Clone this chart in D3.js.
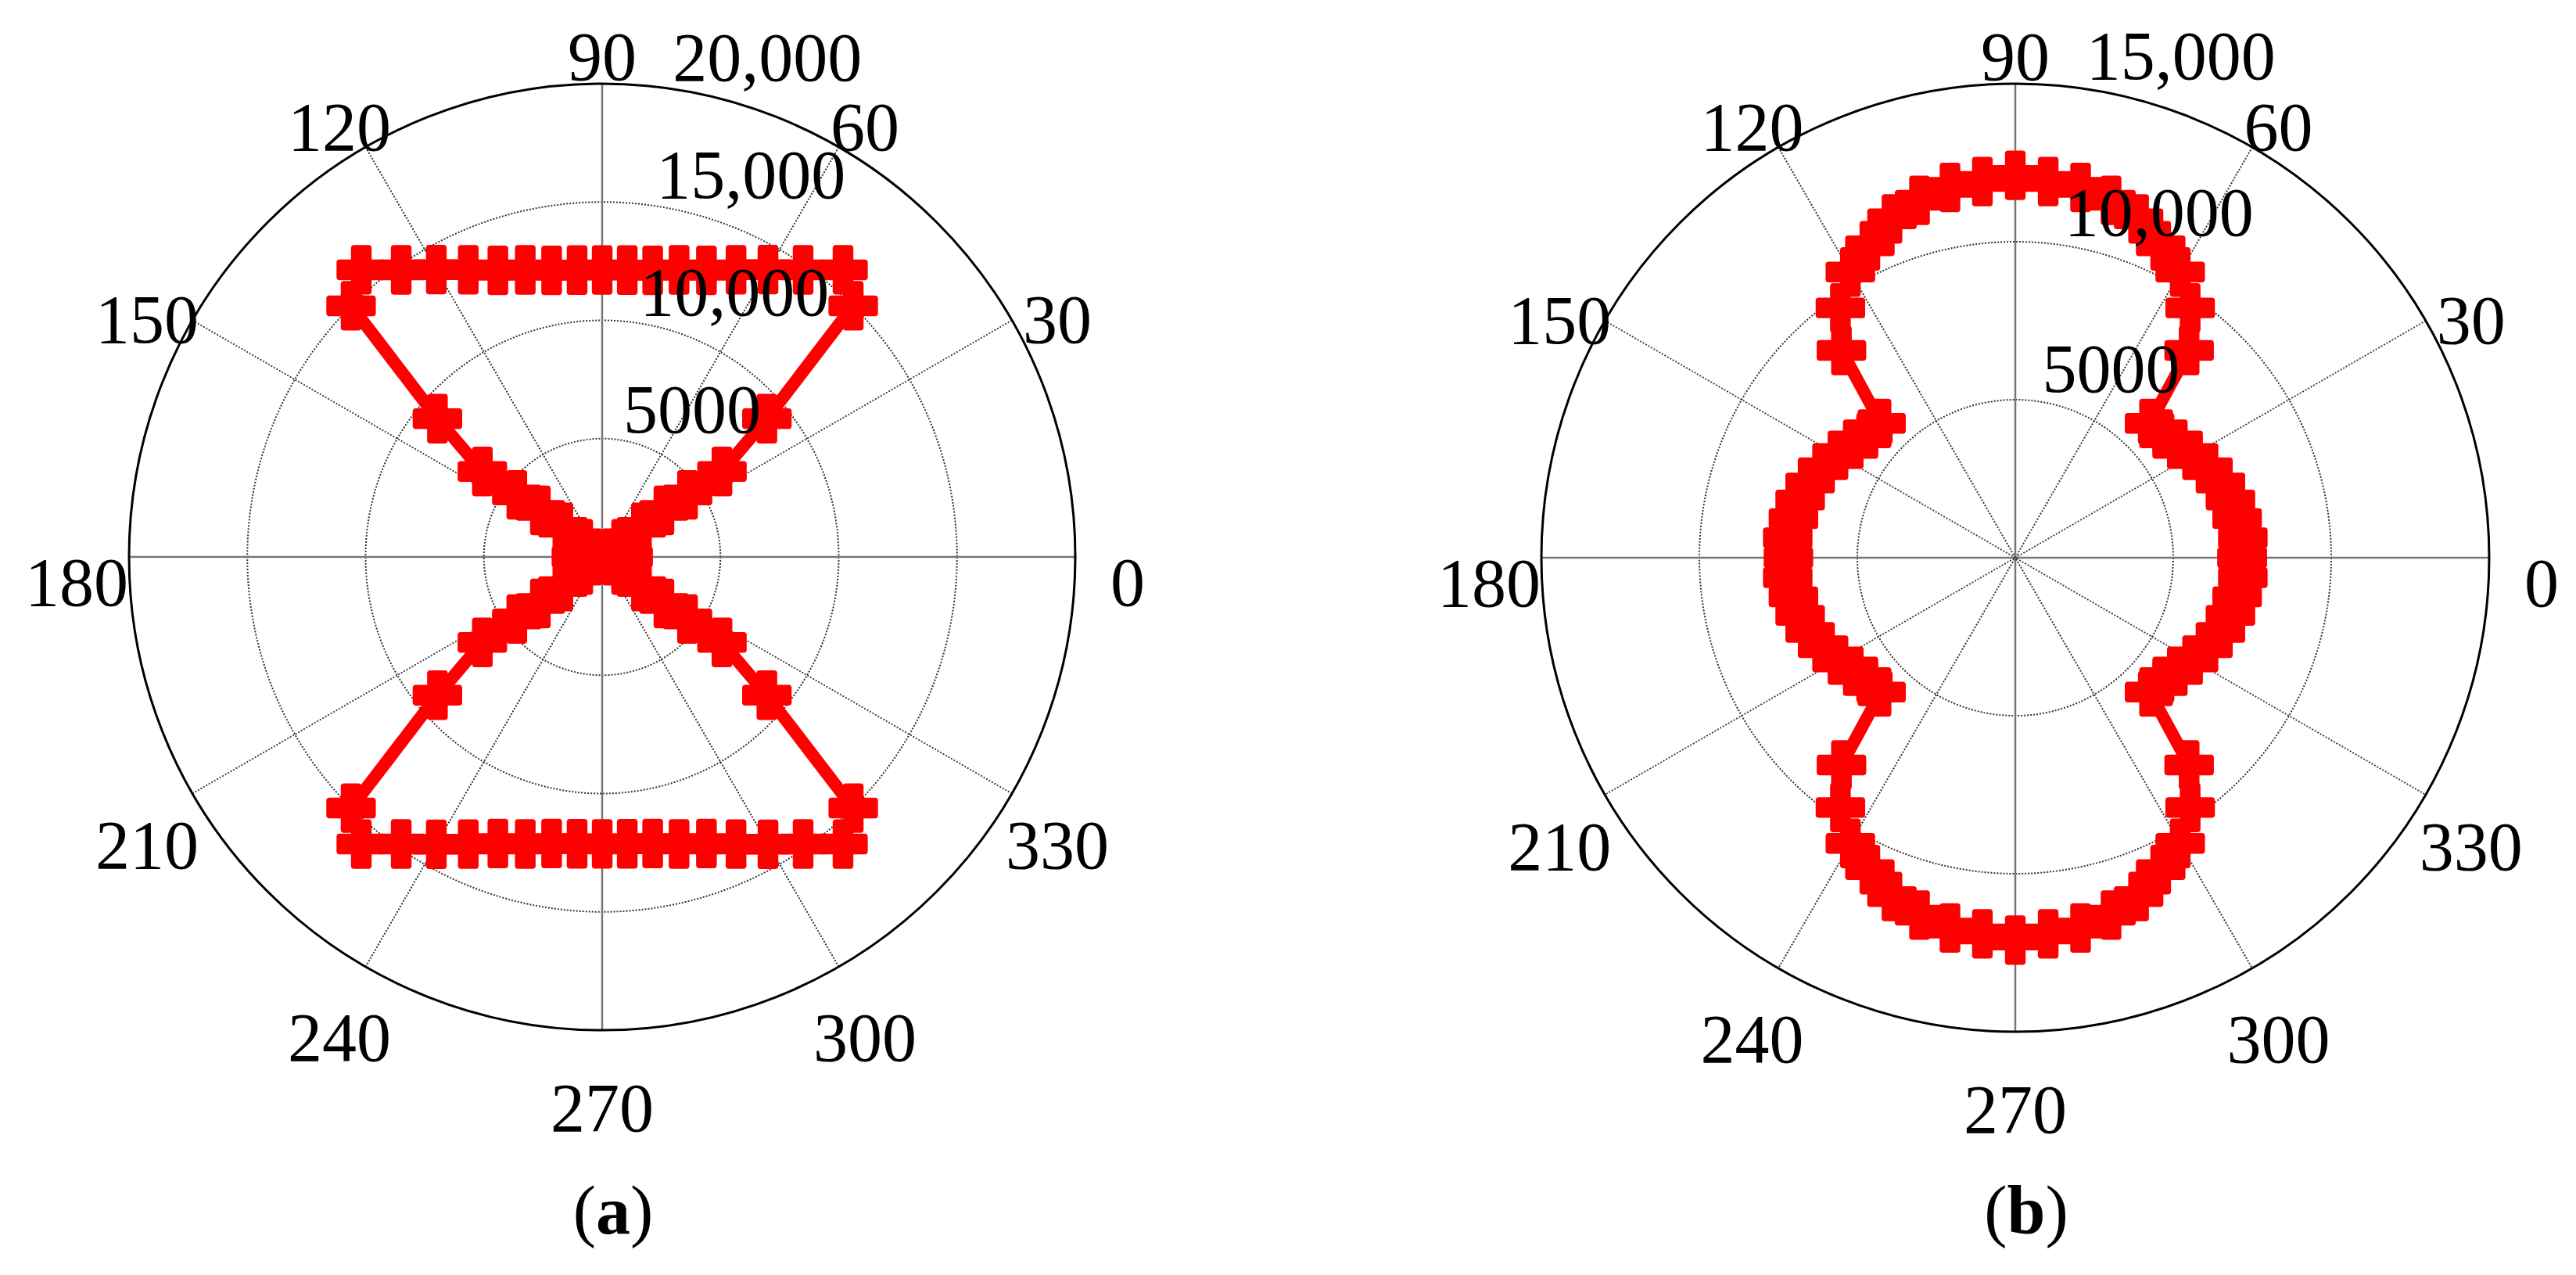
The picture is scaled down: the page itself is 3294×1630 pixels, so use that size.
<!DOCTYPE html>
<html>
<head>
<meta charset="utf-8">
<script src="https://cdn.jsdelivr.net/npm/d3@7"></script>
<style>
  html, body { margin: 0; padding: 0; background: #fff; }
  svg { display: block; }
  text { font-family: "Liberation Serif", "Times New Roman", serif; fill: #000; }
</style>
</head>
<body>
<div id="chart"></div>
<script>
// panel (a): marker angles (degrees); the arms of the X
// run almost radially, so the angles bunch up there
const anglesA = [
  0, 8, 20, 34, 37, 37, 36, 35.5, 40, 45, 50, 55, 60, 65, 70, 75, 80, 85, 90,
  95, 100, 105, 110, 115, 120, 125, 130, 135, 140, 144.5, 144, 143, 143, 146, 160, 172, 180,
  188, 200, 214, 217, 217, 216, 215.5, 220, 225, 230, 235, 240, 245, 250, 255, 260, 265, 270,
  275, 280, 285, 290, 295, 300, 305, 310, 315, 320, 324.5, 324, 323, 323, 326, 340, 352, 360,
];
const valuesA = [
  1090, 730, 460, 990, 2080, 3270, 4460, 6220, 9090, 15010, 15840, 14810, 14020, 13390, 12890, 12560, 12300, 12170, 12130,
  12170, 12300, 12560, 12890, 13390, 14020, 14810, 15840, 15010, 9090, 6220, 4460, 3270, 2080, 990, 460, 730, 1090,
  730, 460, 990, 2080, 3270, 4460, 6220, 9090, 15010, 15840, 14810, 14020, 13390, 12890, 12560, 12300, 12170, 12130,
  12170, 12300, 12560, 12890, 13390, 14020, 14810, 15840, 15010, 9090, 6220, 4460, 3270, 2080, 990, 460, 730, 1090,
];

// panel (b): one point every 5 degrees
const anglesB = [
  0, 5, 10, 15, 20, 25, 30, 35, 40, 45, 50, 55, 60, 65, 70, 75, 80, 85, 90,
  95, 100, 105, 110, 115, 120, 125, 130, 135, 140, 145, 150, 155, 160, 165, 170, 175, 180,
  185, 190, 195, 200, 205, 210, 215, 220, 225, 230, 235, 240, 245, 250, 255, 260, 265, 270,
  275, 280, 285, 290, 295, 300, 305, 310, 315, 320, 325, 330, 335, 340, 345, 350, 355, 360,
];
const valuesB = [
  7180, 7230, 7130, 7050, 6910, 6730, 6480, 6260, 6090, 6010, 8560, 9650, 10440, 10890, 11410, 11710, 11900, 11950, 12100,
  11950, 11900, 11710, 11410, 10890, 10440, 9650, 8560, 6010, 6090, 6260, 6480, 6730, 6910, 7050, 7130, 7230, 7180,
  7230, 7130, 7050, 6910, 6730, 6480, 6260, 6090, 6010, 8560, 9650, 10440, 10890, 11410, 11710, 11900, 11950, 12100,
  11950, 11900, 11710, 11410, 10890, 10440, 9650, 8560, 6010, 6090, 6260, 6480, 6730, 6910, 7050, 7130, 7230, 7180,
];

const angleTicks = [0, 30, 60, 90, 120, 150, 180, 210, 240, 270, 300, 330];
const ringTicksA = [5000, 10000, 15000, 20000];
const ringLabelsA = ["5000", "10,000", "15,000", "20,000"];
const ringTicksB = [5000, 10000, 15000];
const ringLabelsB = ["5000", "10,000", "15,000"];
const captions = ["a", "b"];

const width = 3294;
const height = 1630;

class PolarPanel {
  constructor({ svg, cx, cy, radius, rings, ringLabels, angles, values, caption }) {
    this.svg = svg;
    this.cx = cx;
    this.cy = cy;
    this.radius = radius;
    this.rings = rings;
    this.ringLabels = ringLabels;
    this.angles = angles;
    this.values = values;
    this.caption = caption;
    this.setup();
    this.scaffold();
    this.render();
  }

  setup() {
    this.maxValue = d3.max(this.rings);
    this.ringStep = this.rings[1] - this.rings[0];
    this.r = d3.scaleLinear().domain([0, this.maxValue]).range([0, this.radius]);
    this.rad = (deg) => (deg * Math.PI) / 180;
    this.data = this.angles.map((a, i) => ({ angle: a, value: this.values[i] }));
    // lineRadial measures clockwise from 12 o'clock
    this.line = d3
      .lineRadial()
      .angle((d) => this.rad(90 - d.angle))
      .radius((d) => this.r(d.value));
    this.pos = (deg, rr) => [rr * Math.cos(this.rad(deg)), -rr * Math.sin(this.rad(deg))];
  }

  scaffold() {
    this.g = this.svg.append("g").attr("transform", `translate(${this.cx},${this.cy})`);
    this.gGrid = this.g.append("g").attr("class", "grid");
    this.gData = this.g.append("g").attr("class", "data");
    this.gText = this.g.append("g").attr("class", "labels");
  }

  render() {
    this.renderGrid();
    this.renderData();
    this.renderLabels();
  }

  renderGrid() {
    const R = this.radius;

    this.gGrid
      .selectAll(".ring")
      .data(this.rings.slice(0, -1))
      .join("circle")
      .attr("class", "ring")
      .attr("r", (d) => this.r(d))
      .attr("fill", "none")
      .attr("stroke", "#333")
      .attr("stroke-width", 2)
      .attr("stroke-dasharray", "2,2");

    this.gGrid
      .selectAll(".spoke")
      .data(angleTicks.filter((a) => a < 180))
      .join("line")
      .attr("class", "spoke")
      .attr("x1", (a) => this.pos(a, R)[0])
      .attr("y1", (a) => this.pos(a, R)[1])
      .attr("x2", (a) => this.pos(a + 180, R)[0])
      .attr("y2", (a) => this.pos(a + 180, R)[1])
      .attr("stroke", (a) => (a % 90 === 0 ? "#777" : "#333"))
      .attr("stroke-width", (a) => (a % 90 === 0 ? 2.5 : 2))
      .attr("stroke-dasharray", (a) => (a % 90 === 0 ? null : "2,2"));

    this.gGrid
      .append("circle")
      .attr("r", R)
      .attr("fill", "none")
      .attr("stroke", "#000")
      .attr("stroke-width", 3);
  }

  renderData() {
    this.gData
      .append("path")
      .datum(this.data)
      .attr("d", this.line)
      .attr("fill", "none")
      .attr("stroke", "#ff0000")
      .attr("stroke-width", 16)
      .attr("stroke-linejoin", "round");

    // fat "+" markers: a cross symbol thickened by its own stroke
    const cross = d3.symbol(d3.symbolCross, 1700);
    this.gData
      .selectAll(".marker")
      .data(this.data)
      .join("path")
      .attr("class", "marker")
      .attr("d", cross)
      .attr("transform", (d) => {
        const [x, y] = this.pos(d.angle, this.r(d.value));
        return `translate(${x},${y})`;
      })
      .attr("fill", "#ff0000")
      .attr("stroke", "#ff0000")
      .attr("stroke-width", 8)
      .attr("stroke-linejoin", "round");
  }

  renderLabels() {
    const labelR = this.radius + 67;
    this.gText
      .selectAll(".angle-label")
      .data(angleTicks)
      .join("text")
      .attr("class", "angle-label")
      .attr("x", (a) => this.pos(a, labelR)[0])
      .attr("y", (a) => this.pos(a, labelR)[1] + 62)
      .attr("text-anchor", "middle")
      .attr("font-size", 88)
      .text((a) => a);

    // ring labels sit along the 82 degree ray, like matlab's polar()
    this.gText
      .selectAll(".ring-label")
      .data(this.rings)
      .join("text")
      .attr("class", "ring-label")
      .attr("x", (v) => this.pos(82, this.r(v + this.ringStep / 20))[0] + 5)
      .attr("y", (v) => this.pos(82, this.r(v + this.ringStep / 20))[1] - 2)
      .attr("text-anchor", "start")
      .attr("font-size", 88)
      .text((v, i) => this.ringLabels[i]);

    const cap = this.gText
      .append("text")
      .attr("x", 14)
      .attr("y", 1577 - this.cy)
      .attr("text-anchor", "middle")
      .attr("font-size", 88);
    cap.append("tspan").text("(");
    cap.append("tspan").attr("font-weight", "bold").text(this.caption);
    cap.append("tspan").text(")");
  }
}

const svg = d3
  .select("#chart")
  .append("svg")
  .attr("width", width)
  .attr("height", height)
  .attr("viewBox", [0, 0, width, height]);

svg.append("rect").attr("width", width).attr("height", height).attr("fill", "#fff");

new PolarPanel({
  svg,
  cx: 770,
  cy: 712,
  radius: 605,
  rings: ringTicksA,
  ringLabels: ringLabelsA,
  angles: anglesA,
  values: valuesA,
  caption: captions[0],
});

new PolarPanel({
  svg,
  cx: 2577,
  cy: 713,
  radius: 606,
  rings: ringTicksB,
  ringLabels: ringLabelsB,
  angles: anglesB,
  values: valuesB,
  caption: captions[1],
});
</script>
</body>
</html>
